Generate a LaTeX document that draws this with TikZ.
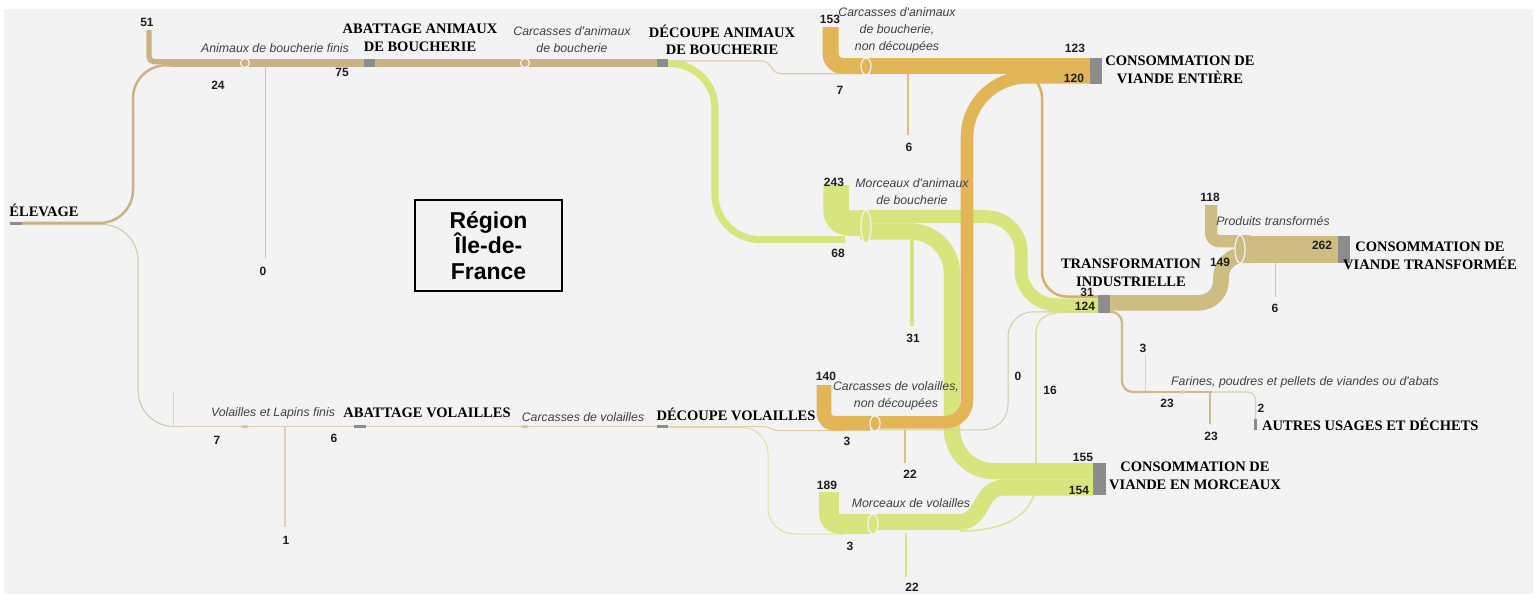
\documentclass[tikz,border=0pt]{standalone}
\usepackage{fontspec}
\setmainfont{Liberation Serif}
\newfontfamily\lsans{Liberation Sans}
\usetikzlibrary{calc}

\definecolor{bg}{RGB}{243,243,243}
\definecolor{tanA}{RGB}{201,178,134}
\definecolor{tanL}{RGB}{214,200,170}
\definecolor{tanT}{RGB}{208,194,160}
\definecolor{thinT}{RGB}{222,204,165}
\definecolor{orng}{RGB}{226,181,86}
\definecolor{thinO}{RGB}{222,190,125}
\definecolor{tanO}{RGB}{214,176,102}
\definecolor{grn}{RGB}{216,229,126}
\definecolor{thinG}{RGB}{218,228,160}
\definecolor{khak}{RGB}{206,189,130}
\definecolor{thinK}{RGB}{205,195,170}
\definecolor{tanF}{RGB}{206,186,135}
\definecolor{thinF}{RGB}{222,208,175}
\definecolor{thinP}{RGB}{220,208,182}
\definecolor{markP}{RGB}{215,195,160}
\definecolor{barg}{RGB}{140,140,140}
\definecolor{itc}{RGB}{65,65,65}
\definecolor{numc}{RGB}{30,30,30}

\newcommand{\lblfont}{\fontsize{14.5}{17.5}\selectfont\bfseries}
\newcommand{\numfont}{\lsans\fontsize{12}{13}\selectfont\bfseries}
\newcommand{\itfont}{\lsans\fontsize{12.3}{17}\selectfont\itshape}

\tikzset{
  flow/.style={line cap=butt, line join=round},
  gbar/.style={fill=barg, draw=none, inner sep=0pt, outer sep=0pt},
  lbl/.style={font=\lblfont, text=black, align=center, inner sep=0pt},
  num/.style={font=\numfont, text=numc, inner sep=0pt},
  itl/.style={font=\itfont, text=itc, align=center, inner sep=0pt},
  valve/.style={draw=bg, line width=1.2pt},
}

\begin{document}
\begin{tikzpicture}[x=1pt,y=-1pt]
\useasboundingbox (0,0) rectangle (1535,597);
\fill[white] (0,0) rectangle (1535,597);
\fill[bg] (4,9) rectangle (1533,594);

% ---------- process nodes (grey bars) ----------
\node[gbar, minimum width=12pt, minimum height=3.3pt]  (elev)   at (16,223.5) {};
\node[gbar, minimum width=11pt, minimum height=7.9pt]  (abatA)  at (369.5,63) {};
\node[gbar, minimum width=11pt, minimum height=7.9pt]  (decA)   at (662.5,63) {};
\node[gbar, minimum width=12pt, minimum height=3pt]    (abatV)  at (360,426.5) {};
\node[gbar, minimum width=11pt, minimum height=3pt]    (decV)   at (662.5,426.5) {};
\node[gbar, minimum width=12pt, minimum height=25.6pt] (consE)  at (1096,70.7) {};
\node[gbar, minimum width=12pt, minimum height=18pt]   (transf) at (1104,304) {};
\node[gbar, minimum width=12pt, minimum height=27.7pt] (consT)  at (1344,249.4) {};
\node[gbar, minimum width=13pt, minimum height=32.5pt] (consM)  at (1099.5,479.2) {};
\node[gbar, minimum width=3pt,  minimum height=11pt]   (autres) at (1255.5,424.5) {};

% ---------- hubs and free ends ----------
\coordinate (imp51)  at (149,30);
\coordinate (out0A)  at (265,258);
\coordinate (imp153) at (830.5,27);
\coordinate (out6A)  at (908,135);
\coordinate (imp243) at (836,185);
\coordinate (out31)  at (912,326);
\coordinate (imp140) at (824,385);
\coordinate (out22C) at (905,463);
\coordinate (imp189) at (829,492);
\coordinate (out22M) at (906,577);
\coordinate (imp118) at (1211.2,205);
\coordinate (out6T)  at (1275,297);
\coordinate (imp3F)  at (1145,355);
\coordinate (out23)  at (1210,424);
\coordinate (imp0V)  at (173,392);
\coordinate (out1V)  at (285,527);

% ---------- thin flows (behind) ----------
% Elevage, poultry branch
\draw[flow, tanL, line width=1.1pt, rounded corners=36pt] ($(elev.east)+(0,1)$) -- (138,224.5) -- (138,426.5) -- (180,426.5);
\draw[thinP, line width=1pt] (imp0V) -- (173,426);
\draw[flow, thinP, line width=1.1pt] (170,426.5) -- (abatV.west);
\draw[thinP, line width=1.1pt] (285,427) -- (out1V);
\fill[markP] (245,426.7) ellipse [x radius=4, y radius=1.5];
\draw[flow, thinP, line width=1.1pt] (abatV.east) -- (decV.west);
\fill[markP] (525,426.7) ellipse [x radius=4, y radius=1.5];

% poultry cutting -> poultry carcasses / pieces
\draw[flow, thinT, line width=1pt] (decV.east) -- (762,426.5) .. controls (772,426.5) and (770,430.7) .. (782,430.7) -- (845,430.7);
\draw[flow, thinG, line width=1pt, rounded corners=26pt] ($(decV.east)+(0,1)$) -- (768,427.5) -- (768,534) -- (845,534);

% pieces of poultry -> industrial processing (16)
\draw[flow, thinG, line width=1.6pt] (960,531) .. controls (1005,531) and (1036,515) .. (1036,480) -- (1036,335) .. controls (1036,318) and (1046,312.2) .. (1066,312.2) -- ($(transf.west)+(0,8.2)$);

% animal cutting -> whole carcasses (7)
\draw[flow, thinT, line width=1.2pt] ($(decA.east)+(0,-2)$) -- (762,61) .. controls (772,61) and (770,73.8) .. (782,73.8) -- (845,73.8);

% whole animal carcasses -> industrial processing (31)
\draw[flow, tanO, line width=2.5pt, rounded corners=25pt] (1017,72.6) -- (1042,72.6) -- (1042,296.6) -- ($(transf.west)+(0,-7.4)$);

% ---------- Elevage -> animals ----------
\draw[flow, tanA, line width=2.5pt, rounded corners=33pt] ($(elev.east)+(0,-0.6)$) -- (133,222.9) -- (133,65.3) -- (180,65.3);
\draw[flow, tanA, line width=5.4pt, rounded corners=5pt] (imp51) -- (149,61.7) -- (180,61.7);
\draw[tanT, line width=1pt] (265,66) -- (out0A);
\draw[flow, tanA, line width=7.9pt] (170,63) -- (abatA.west);
\draw[valve, fill=tanA] (245,63) circle [radius=4.5];
\draw[flow, tanA, line width=7.9pt] (abatA.east) -- (decA.west);
\draw[valve, fill=tanA] (525,63) circle [radius=4.5];

% ---------- pieces of butcher animals ----------
\draw[flow, grn, line width=7.1pt, rounded corners=45pt] ($(decA.east)+(0,0.5)$) -- (715,63.5) -- (715,239.6) -- (845,239.6);
\draw[flow, grn, line width=25.5pt, rounded corners=12pt] (imp243) -- (836,223) -- (870,223);
\draw[flow, grn, line width=3.3pt] (912,240) -- (out31);
\draw[flow, grn, line width=16.3pt, rounded corners=42pt] (860,231.4) -- (952,231.4) -- (952,471.2) -- ($(consM.west)+(0,-8)$);
\draw[flow, grn, line width=13pt, rounded corners=35pt] (860,216.7) -- (1021,216.7) -- (1021,304.8) -- ($(transf.west)+(0,0.8)$);
\draw[valve, fill=grn] (866,226.7) ellipse [x radius=5, y radius=16.3];

% ---------- pieces of poultry ----------
\draw[flow, grn, line width=19.8pt, rounded corners=10pt] (imp189) -- (829,523.9) -- (870,523.9);
\draw[flow, grn, line width=2.3pt] (906,533) -- (out22M);
\draw[flow, grn, line width=16.2pt] (860,522.1) -- (958,522.1) .. controls (985,522.1) and (978,487.4) .. (1005,487.4) -- ($(consM.west)+(0,8.2)$);
\draw[valve, fill=grn] (873,524) ellipse [x radius=5, y radius=10];

% ---------- whole butcher-animal carcasses ----------
\draw[flow, orng, line width=16pt, rounded corners=12pt] (imp153) -- (830.5,66) -- (870,66);
\draw[thinO, line width=1.3pt] (908,74) -- (out6A);
\draw[flow, orng, line width=16.2pt] (860,66.1) -- (1032,66.1);
\draw[flow, orng, line width=13pt] (1030,64.5) -- ($(consE.west)+(0,-6.2)$);
\draw[valve, fill=orng] (866,66.4) ellipse [x radius=5, y radius=8.4];

% ---------- whole poultry carcasses ----------
\draw[flow, tanL, line width=1pt, rounded corners=25pt] (870,429.8) -- (1008,429.8) -- (1008,311.8) -- ($(transf.west)+(0,7.8)$);
\draw[flow, orng, line width=14.7pt, rounded corners=10pt] (imp140) -- (824,423.3) -- (870,423.3);
\draw[thinO, line width=2.3pt] (905,430) -- (out22C);
\draw[flow, orng, line width=12.6pt, rounded corners=22pt] (865,422.3) -- (967,422.3) -- (967,250);
\draw[flow, orng, line width=12.6pt, rounded corners=60pt] (967,250.5) -- (967,77.3) -- ($(consE.west)+(0,6.6)$);
\draw[valve, fill=orng] (875,423.5) ellipse [x radius=5, y radius=7.6];

% ---------- industrial processing outputs ----------
\draw[flow, tanF, line width=2.3pt, rounded corners=11pt] ($(transf.east)+(0,7.8)$) -- (1122,311.8) -- (1122,392) -- (1150,392);
\draw[thinF, line width=1pt] (imp3F) -- (1145,391);
\draw[flow, thinF, line width=1.1pt, rounded corners=8pt] (1205,392) -- (1255.5,392) -- (autres.north);
\draw[flow, tanF, line width=2.6pt] (1140,392) -- (1212,392);
\draw[flow, tanF, line width=2.4pt] (1210,392) -- (out23);
\fill[thinF] (1183,392) circle [radius=2];

\draw[flow, khak, line width=15.6pt, rounded corners=22pt] ($(transf.east)+(0,-1.2)$) -- (1221,302.8) -- (1221,255.2) -- (1250,255.2);
\draw[flow, khak, line width=12.4pt, rounded corners=8pt] (imp118) -- (1211.2,241.2) -- (1250,241.2);
\draw[thinK, line width=1pt] (1275,263) -- (out6T);
\draw[flow, khak, line width=27.7pt] (1245,249.4) -- (consT.west);
\draw[valve, fill=khak] (1240,249.2) ellipse [x radius=5, y radius=14];

% ---------- node labels ----------
\node[lbl] (tElev)  at (44,210)    {ÉLEVAGE};
\node[lbl] (tAbatA) at (420,38)    {ABATTAGE ANIMAUX\\DE BOUCHERIE};
\node[lbl] (tDecA)  at (722,40)    {DÉCOUPE ANIMAUX\\DE BOUCHERIE};
\node[lbl] (tConsE) at (1180,70)   {CONSOMMATION DE\\VIANDE ENTIÈRE};
\node[lbl] (tTrans) at (1131,273)  {TRANSFORMATION\\INDUSTRIELLE};
\node[lbl] (tConsT) at (1430,256)  {CONSOMMATION DE\\VIANDE TRANSFORMÉE};
\node[lbl, anchor=west] (tAutres) at (1262,424) {AUTRES USAGES ET DÉCHETS};
\node[lbl] (tConsM) at (1195,476)  {CONSOMMATION DE\\VIANDE EN MORCEAUX};
\node[lbl] (tAbatV) at (427,413)   {ABATTAGE VOLAILLES};
\node[lbl] (tDecV)  at (736,414)   {DÉCOUPE VOLAILLES};

% ---------- product labels ----------
\node[itl] (pAnim)  at (275,48)   {Animaux de boucherie finis};
\node[itl] (pCarcA) at (572,40)   {Carcasses d'animaux\\de boucherie};
\node[itl] (pCarcN) at (897,30)   {Carcasses d'animaux\\de boucherie,\\non découpées};
\node[itl] (pMorcA) at (912,192)  {Morceaux d'animaux\\de boucherie};
\node[itl] (pProd)  at (1273,221) {Produits transformés};
\node[itl] (pFar)   at (1305,382) {Farines, poudres et pellets de viandes ou d'abats};
\node[itl] (pCarcV) at (896,396)  {Carcasses de volailles,\\non découpées};
\node[itl] (pMorcV) at (911,503)  {Morceaux de volailles};
\node[itl] (pVol)   at (273,413)  {Volailles et Lapins finis};
\node[itl] (pCarV)  at (583,417)  {Carcasses de volailles};

% ---------- values ----------
\node[num] at (147,22)   {51};
\node[num] at (218,85)   {24};
\node[num] at (342,72)   {75};
\node[num] at (263,271)  {0};
\node[num] at (830,19)   {153};
\node[num] at (840,90)   {7};
\node[num] at (909,147)  {6};
\node[num] at (1075,48)  {123};
\node[num] at (1074,78)  {120};
\node[num] at (834,182)  {243};
\node[num] at (838,253)  {68};
\node[num] at (913,338)  {31};
\node[num] at (1087,292) {31};
\node[num] at (1085,306) {124};
\node[num] at (1210,197) {118};
\node[num] at (1322,245) {262};
\node[num] at (1220,262) {149};
\node[num] at (1275,308) {6};
\node[num] at (1143,348) {3};
\node[num] at (1167,403) {23};
\node[num] at (1211,436) {23};
\node[num] at (1261,408) {2};
\node[num] at (1083,457) {155};
\node[num] at (1079,490) {154};
\node[num] at (1018,376) {0};
\node[num] at (1050,390) {16};
\node[num] at (826,376)  {140};
\node[num] at (847,441)  {3};
\node[num] at (910,474)  {22};
\node[num] at (827,485)  {189};
\node[num] at (850,546)  {3};
\node[num] at (912,587)  {22};
\node[num] at (217,440)  {7};
\node[num] at (334,438)  {6};
\node[num] at (286,540)  {1};

% ---------- region frame ----------
\node[draw=black, line width=1.2pt, minimum width=147pt, minimum height=91pt, inner sep=0pt, align=center,
      font=\lsans\bfseries\fontsize{23}{25.5}\selectfont] (region) at (488.5,245.5) {Région\\Île-de-\\France};
\end{tikzpicture}
\end{document}
